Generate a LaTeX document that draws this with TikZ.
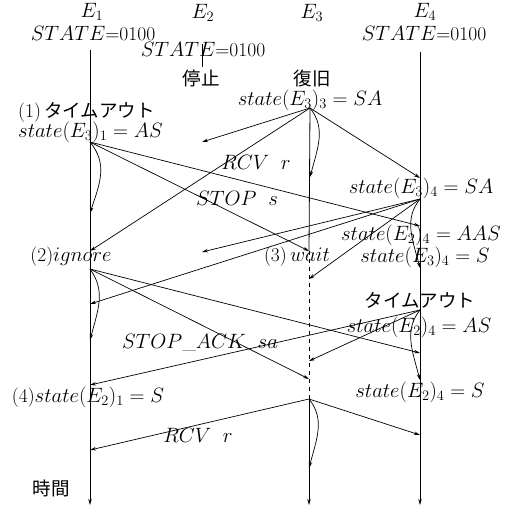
\documentclass[tikz,border=0pt]{standalone}
\usepackage{fontspec}
\newfontfamily\cjk{Noto Sans CJK JP}
\usetikzlibrary{arrows.meta}
\begin{document}
\begin{tikzpicture}[x=1pt,y=-1pt,
  msg/.style={line width=0.7pt,-{Stealth[length=6pt,width=3.5pt]}},
  life/.style={line width=0.8pt},
  lifearrow/.style={line width=0.8pt,-{Stealth[length=6pt,width=3.5pt]}},
  lbl/.style={inner sep=0pt,font=\fontsize{19.5}{21}\selectfont},
  jp/.style={inner sep=0pt,font=\fontsize{18.5}{21}\selectfont\cjk},
]
\useasboundingbox (0,0) rectangle (516,507);

% header labels
\node[lbl] (h1) at (92,12) {$E_1$};
\node[lbl] (h2) at (203,13) {$E_2$};
\node[lbl] (h3) at (312,13) {$E_3$};
\node[lbl] (h4) at (425,12) {$E_4$};
\node[lbl] (s1) at (93,34) {$STATE$=0100};
\node[lbl] (s2) at (203,50) {$STATE$=0100};
\node[lbl] (s4) at (424,34) {$STATE$=0100};
\node[jp] (stop2) at (201,79) {停止};
\node[jp] (rec3) at (312,78) {復旧};

% event coordinates
\coordinate (e1top) at (90,50);
\coordinate (e1bot) at (90,505);
\coordinate (e2top) at (202,44);
\coordinate (e2bot) at (202,67);
\coordinate (e4top) at (420,52);
\coordinate (e4bot) at (420,505);
\coordinate (e3bot) at (309,505);

\coordinate (a1) at (90,142);
\coordinate (a1s) at (90,213);
\coordinate (a3) at (310,108);
\coordinate (a3s) at (310,177);
\coordinate (m2a) at (202,142);
\coordinate (b4) at (420,226);
\coordinate (w3) at (309,251);
\coordinate (i1) at (90,251);
\coordinate (c4) at (420,178);
\coordinate (d4) at (420,199);
\coordinate (d4s) at (420,268);
\coordinate (m2b) at (202,252);
\coordinate (d1) at (90,304);
\coordinate (d3) at (309,279);
\coordinate (g1) at (90,269);
\coordinate (g1s) at (90,340);
\coordinate (g4) at (420,353);
\coordinate (g3) at (309,379);
\coordinate (t4) at (420,310);
\coordinate (t4s) at (420,380);
\coordinate (t1) at (90,385);
\coordinate (t3) at (309,361);
\coordinate (r3) at (309,399);
\coordinate (r1) at (90,450);
\coordinate (r4) at (420,435);
\coordinate (r3s) at (309,468);

% lifelines
\draw[lifearrow] (e1top) -- (e1bot);
\draw[lifearrow] (e4top) -- (e4bot);
\draw[life] (e2top) -- (e2bot);
\draw[life] (a3) -- (w3);
\draw[life,dash pattern=on 4pt off 4pt] (w3) -- (r3);
\draw[lifearrow] (r3) -- (e3bot);

% messages
\draw[msg] (a1) -- (b4);
\draw[msg] (a1) -- (w3);
\draw[msg] (a1) .. controls +(18,22) and +(10,-30) .. (a1s);
\draw[msg] (a3) -- (m2a);
\draw[msg] (a3) -- (i1);
\draw[msg] (a3) -- (c4);
\draw[msg] (a3) .. controls +(16,20) and +(8,-30) .. (a3s);
\draw[msg] (d4) -- (m2b);
\draw[msg] (d4) -- (d1);
\draw[msg] (d4) -- (d3);
\draw[msg] (d4) .. controls +(-16,20) and +(-8,-30) .. (d4s);
\draw[msg] (g1) -- (g4);
\draw[msg] (g1) -- (g3);
\draw[msg] (g1) .. controls +(16,22) and +(8,-30) .. (g1s);
\draw[msg] (t4) -- (t1);
\draw[msg] (t4) -- (t3);
\draw[msg] (t4) .. controls +(-16,20) and +(-8,-30) .. (t4s);
\draw[msg] (r3) -- (r1);
\draw[msg] (r3) -- (r4);
\draw[msg] (r3) .. controls +(16,20) and +(8,-30) .. (r3s);

% labels
\node[lbl] (l3) at (310,100) {$state(E_3)_3=SA$};
\node[lbl,anchor=west] (l1a) at (18,112) {(1)\,{\cjk\fontsize{18.5}{21}\selectfont タイムアウト}};
\node[lbl,anchor=west] (l1b) at (18,132) {$state(E_3)_1=AS$};
\node[lbl] (rcv1) at (256,162) {$RCV\ \ r$};
\node[lbl] (stops) at (237,198) {$STOP\ \ s$};
\node[lbl] (l4a) at (421,188) {$state(E_3)_4=SA$};
\node[lbl] (l4b) at (421,235) {$state(E_2)_4=AAS$};
\node[lbl] (wait) at (297,257) {(3)\,$wait$};
\node[lbl] (l4c) at (425,257) {$state(E_3)_4=S$};
\node[lbl] (ign) at (71,257) {(2)$ignore$};
\node[lbl] (ack) at (200,343) {$STOP\_ACK\ \ sa$};
\node[jp] (to4) at (420,300) {タイムアウト};
\node[lbl] (l4d) at (419,327) {$state(E_2)_4=AS$};
\node[lbl] (l4e) at (420,392) {$state(E_2)_4=S$};
\node[lbl] (l1c) at (88,397) {(4)$state(E_2)_1=S$};
\node[lbl] (rcv2) at (198,435) {$RCV\ \ r$};
\node[jp] (time) at (51,488) {時間};
\end{tikzpicture}
\end{document}
